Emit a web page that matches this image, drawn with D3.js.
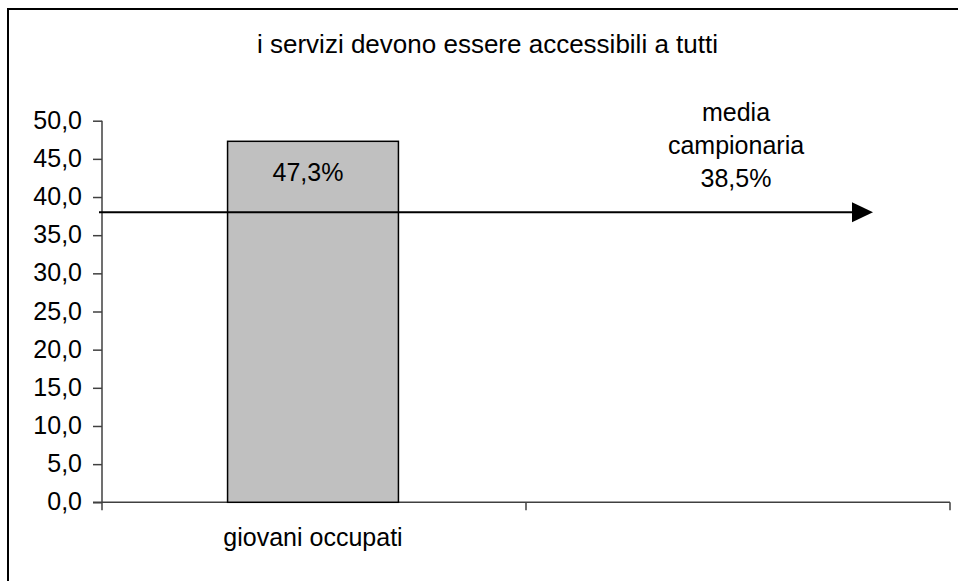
<!DOCTYPE html>
<html>
<head>
<meta charset="utf-8">
<script src="https://cdn.jsdelivr.net/npm/d3@7"></script>
<style>
  html, body { margin: 0; padding: 0; background: #fff; }
  svg { display: block; font-family: "Liberation Sans", Arial, Helvetica, sans-serif; }
</style>
</head>
<body>
<svg id="chart" width="958" height="581"></svg>
<script>
// ---- data ----
const title = "i servizi devono essere accessibili a tutti";
const categories = ["giovani occupati", ""];
const values = [47.3, null];
const valueLabels = ["47,3%", ""];
const yTicks = [0, 5, 10, 15, 20, 25, 30, 35, 40, 45, 50];
const meanLevel = 38.0;           // where the arrow is drawn
const meanLabelLines = ["media", "campionaria", "38,5%"];

// ---- layout ----
const svg = d3.select("#chart");
const plot = { left: 102, right: 950, top: 120.7, bottom: 502.3 };
const fs = 25;
const axisColor = "#404040";

// outer frame (extends beyond the visible area on right/bottom)
svg.append("rect")
  .attr("x", 8).attr("y", 9)
  .attr("width", 1000).attr("height", 1000)
  .attr("fill", "none").attr("stroke", "#000").attr("stroke-width", 2);

// title
svg.append("text")
  .attr("x", 487.5).attr("y", 53)
  .attr("text-anchor", "middle")
  .attr("font-size", 26)
  .attr("fill", "#000")
  .text(title);

// scales
const y = d3.scaleLinear().domain([0, 50]).range([plot.bottom, plot.top]);
const x = d3.scaleBand().domain(categories).range([plot.left, plot.right]).padding(0);
const barW = x.bandwidth() * 0.403;

// y axis
const yAxis = d3.axisLeft(y)
  .tickValues(yTicks)
  .tickSize(9)
  .tickPadding(11)
  .tickFormat(d => d3.format(".1f")(d).replace(".", ","));
const gy = svg.append("g").attr("transform", `translate(${plot.left},0)`).call(yAxis);
gy.select(".domain").remove();
gy.append("line")
  .attr("x1", 0).attr("x2", 0)
  .attr("y1", y(50)).attr("y2", plot.bottom + 8)
  .attr("stroke", axisColor).attr("stroke-width", 1.5);
gy.selectAll(".tick line").attr("stroke", axisColor).attr("stroke-width", 1.5);
gy.selectAll(".tick text")
  .attr("font-size", fs)
  .attr("font-family", "Liberation Sans, Arial, sans-serif")
  .attr("fill", "#000")
  .attr("dy", "0.3em");

// x axis line and category boundary ticks
svg.append("line")
  .attr("x1", plot.left - 9).attr("x2", plot.right)
  .attr("y1", plot.bottom).attr("y2", plot.bottom)
  .attr("stroke", axisColor).attr("stroke-width", 1.5);
const boundaries = categories.map(c => x(c)).concat([x(categories[categories.length - 1]) + x.bandwidth()]);
svg.selectAll("line.xtick")
  .data(boundaries.slice(1))
  .enter().append("line")
  .attr("class", "xtick")
  .attr("x1", d => d).attr("x2", d => d)
  .attr("y1", plot.bottom).attr("y2", plot.bottom + 8)
  .attr("stroke", axisColor).attr("stroke-width", 1.5);

// category labels
svg.selectAll("text.cat")
  .data(categories)
  .enter().append("text")
  .attr("class", "cat")
  .attr("x", d => x(d) + x.bandwidth() / 2 - 1)
  .attr("y", 546)
  .attr("text-anchor", "middle")
  .attr("font-size", fs)
  .attr("fill", "#000")
  .text(d => d);

// bars
const barData = categories.map((c, i) => ({ c, v: values[i], label: valueLabels[i] })).filter(d => d.v != null);
svg.selectAll("rect.bar")
  .data(barData)
  .enter().append("rect")
  .attr("class", "bar")
  .attr("x", d => x(d.c) + x.bandwidth() / 2 - barW / 2 - 1)
  .attr("y", d => y(d.v))
  .attr("width", barW)
  .attr("height", d => y(0) - y(d.v))
  .attr("fill", "#c0c0c0")
  .attr("stroke", "#000")
  .attr("stroke-width", 1.5);

// value labels
svg.selectAll("text.val")
  .data(barData)
  .enter().append("text")
  .attr("class", "val")
  .attr("x", d => x(d.c) + x.bandwidth() / 2 - 6)
  .attr("y", d => y(d.v) + 40)
  .attr("text-anchor", "middle")
  .attr("font-size", fs)
  .attr("fill", "#000")
  .text(d => d.label);

// mean arrow
const ay = y(meanLevel);
const headBase = 852, headTip = 873;
svg.append("line")
  .attr("x1", plot.left - 3).attr("x2", headBase + 2)
  .attr("y1", ay).attr("y2", ay)
  .attr("stroke", "#000").attr("stroke-width", 2);
svg.append("path")
  .attr("d", `M${headBase},${ay - 10}L${headTip},${ay}L${headBase},${ay + 10}Z`)
  .attr("fill", "#000");

// mean label
svg.selectAll("text.mean")
  .data(meanLabelLines)
  .enter().append("text")
  .attr("class", "mean")
  .attr("x", 736)
  .attr("y", (d, i) => 121 + i * 33)
  .attr("text-anchor", "middle")
  .attr("font-size", fs)
  .attr("fill", "#000")
  .text(d => d);
</script>
</body>
</html>
